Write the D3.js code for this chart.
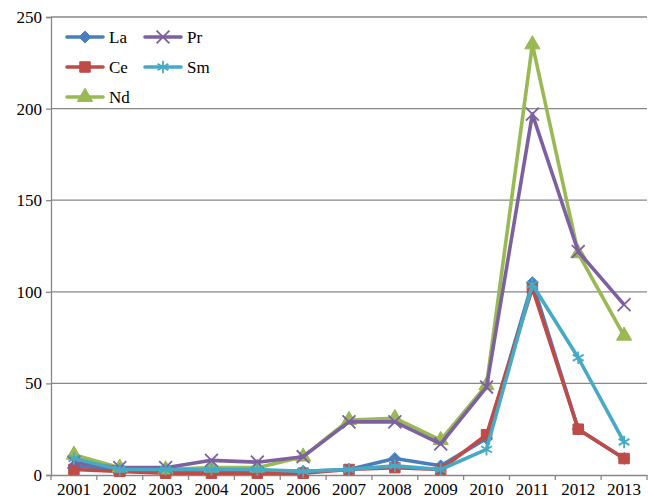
<!DOCTYPE html>
<html>
<head>
<meta charset="utf-8">
<script src="https://cdn.jsdelivr.net/npm/d3@7"></script>
<style>
  body { margin: 0; background: #fff; }
  text { font-family: "Liberation Serif", "Times New Roman", serif; }
</style>
</head>
<body>
<div id="chart"></div>
<script>
// Data
const years = ['2001','2002','2003','2004','2005','2006','2007','2008','2009','2010','2011','2012','2013'];
const La = [5, 3, 2, 2, 2, 2, 3, 9, 5, 20, 105, 25, 9];
const Ce = [3, 2, 1, 1, 1, 1, 3, 4, 3, 22, 102, 25, 9];
const Nd = [11, 4, 3, 4, 4, 10, 30, 31, 19, 49, 235, 121, 76];
const Pr = [7, 4, 4, 8, 7, 10, 29, 29, 17, 48, 197, 122, 93];
const Sm = [9, 3, 3, 3, 3, 2, 3, 5, 3, 14, 104, 64, 18];
const yTicks = [0, 50, 100, 150, 200, 250];

const series = [
    { name: 'La', values: La, color: '#4a7ebb', symbol: 'diamond' },
    { name: 'Ce', values: Ce, color: '#be4b48', symbol: 'square' },
    { name: 'Nd', values: Nd, color: '#98b954', symbol: 'triangle' },
    { name: 'Pr', values: Pr, color: '#7d60a0', symbol: 'x' },
    { name: 'Sm', values: Sm, color: '#46aac5', symbol: 'star' }
];

const W = 648, H = 502;
const margin = { top: 17, right: 1, bottom: 27, left: 51 };
const width = W - margin.left - margin.right;
const height = H - margin.top - margin.bottom;

const svg = d3.select('#chart').append('svg')
    .attr('width', W).attr('height', H)
    .append('g')
    .attr('transform', `translate(${margin.left}, ${margin.top})`);

const xScale = d3.scaleBand().domain(years).range([0, width]);
const yScale = d3.scaleLinear().domain([0, 250]).range([height, 0]);

// Gridlines
svg.selectAll('.grid').data(yTicks.filter(d => d > 0))
    .enter().append('line')
    .attr('x1', 0).attr('x2', width)
    .attr('y1', d => yScale(d)).attr('y2', d => yScale(d))
    .attr('stroke', '#878787').attr('stroke-width', 1.3);

// Y axis
const yAxis = svg.append('g')
    .call(d3.axisLeft(yScale).tickValues(yTicks).tickSize(5).tickPadding(4));
yAxis.select('.domain').attr('stroke', '#878787').attr('stroke-width', 1.3);
yAxis.selectAll('.tick line').attr('stroke', '#878787').attr('stroke-width', 1.3);
yAxis.selectAll('text').style('font-size', '17px').attr('fill', '#000')
    .style('font-family', '"Liberation Serif", serif');

// X axis
const xAxis = svg.append('g')
    .attr('transform', `translate(0, ${height})`)
    .call(d3.axisBottom(xScale).tickSize(0).tickPadding(8));
xAxis.select('.domain').attr('stroke', '#878787').attr('stroke-width', 1.3);
xAxis.selectAll('text').style('font-size', '17px').attr('fill', '#000')
    .style('font-family', '"Liberation Serif", serif');
// category boundary ticks
svg.append('g').selectAll('line')
    .data(d3.range(years.length + 1))
    .enter().append('line')
    .attr('x1', i => i * xScale.step()).attr('x2', i => i * xScale.step())
    .attr('y1', height).attr('y2', height + 5)
    .attr('stroke', '#878787').attr('stroke-width', 1.3);

const cx = i => xScale(years[i]) + xScale.bandwidth() / 2;

const symbolPath = {
    diamond: d3.symbol().type(d3.symbolDiamond2).size(90),
    square: d3.symbol().type(d3.symbolSquare).size(110),
    triangle: d3.symbol().type(d3.symbolTriangle).size(100),
    x: d3.symbol().type(d3.symbolX).size(110),
    star: d3.symbol().type(d3.symbolAsterisk).size(110)
};

const drawMarker = (g, s, x, y) => {
    const p = g.append('path')
        .attr('d', symbolPath[s.symbol]())
        .attr('transform', `translate(${x}, ${y})`);
    if (s.symbol === 'x' || s.symbol === 'star') {
        p.attr('fill', 'none').attr('stroke', s.color).attr('stroke-width', 1.8);
    } else {
        p.attr('fill', s.color).attr('stroke', s.color).attr('stroke-width', 1);
    }
};

const line = d3.line()
    .x((d, i) => cx(i))
    .y(d => yScale(d));

series.forEach(s => {
    const g = svg.append('g');
    g.append('path')
        .datum(s.values)
        .attr('d', line)
        .attr('fill', 'none')
        .attr('stroke', s.color)
        .attr('stroke-width', 3.6)
        .attr('stroke-linejoin', 'round');
    s.values.forEach((v, i) => drawMarker(g, s, cx(i), yScale(v)));
});

// Legend
const legendPos = [
    { x: 16, y: 20 },  // La
    { x: 16, y: 50 },  // Ce
    { x: 16, y: 80 },  // Nd
    { x: 94, y: 20 },  // Pr
    { x: 94, y: 50 }   // Sm
];
series.forEach((s, k) => {
    const p = legendPos[k];
    const g = svg.append('g').attr('transform', `translate(${p.x}, ${p.y})`);
    g.append('line')
        .attr('x1', 0).attr('x2', 36).attr('y1', 0).attr('y2', 0)
        .attr('stroke', s.color).attr('stroke-width', 3.6)
        .attr('stroke-linecap', 'round');
    drawMarker(g, s, 18, 0);
    g.append('text')
        .attr('x', 42).attr('y', 6)
        .style('font-size', '17px')
        .text(s.name);
});
</script>
</body>
</html>
